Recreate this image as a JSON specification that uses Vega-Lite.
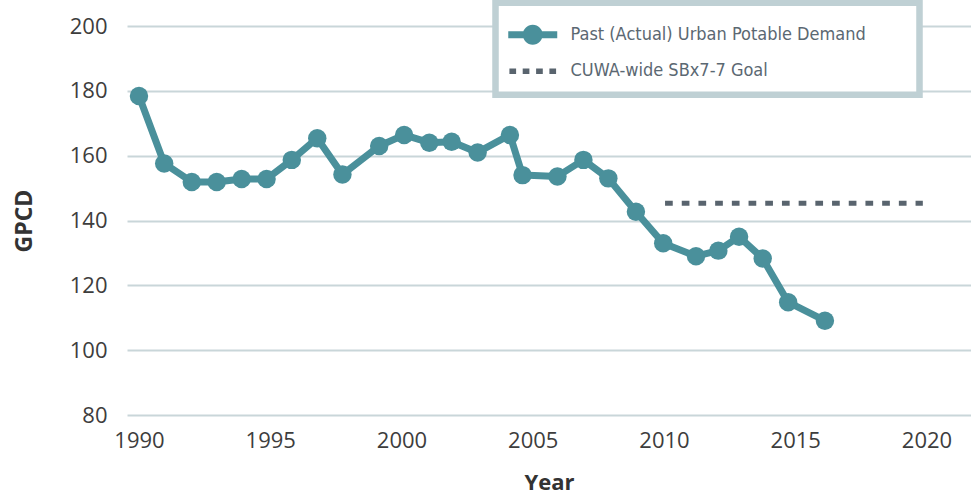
{
  "$schema": "https://vega.github.io/schema/vega-lite/v6.json",
  "width": 844,
  "height": 389,
  "autosize": {"type": "none"},
  "padding": {"left": 127, "top": 26, "right": 0, "bottom": 82},
  "background": "white",
  "config": {"view": {"stroke": null}, "font": "Open Sans"},
  "data": {
    "values": [
      {"year": 1990.0, "gpcd": 178.4, "series": "Past (Actual) Urban Potable Demand"},
      {"year": 1990.96, "gpcd": 157.6, "series": "Past (Actual) Urban Potable Demand"},
      {"year": 1992.01, "gpcd": 151.9, "series": "Past (Actual) Urban Potable Demand"},
      {"year": 1992.96, "gpcd": 151.9, "series": "Past (Actual) Urban Potable Demand"},
      {"year": 1993.91, "gpcd": 152.8, "series": "Past (Actual) Urban Potable Demand"},
      {"year": 1994.86, "gpcd": 152.8, "series": "Past (Actual) Urban Potable Demand"},
      {"year": 1995.82, "gpcd": 158.7, "series": "Past (Actual) Urban Potable Demand"},
      {"year": 1996.79, "gpcd": 165.4, "series": "Past (Actual) Urban Potable Demand"},
      {"year": 1997.75, "gpcd": 154.2, "series": "Past (Actual) Urban Potable Demand"},
      {"year": 1999.15, "gpcd": 163.0, "series": "Past (Actual) Urban Potable Demand"},
      {"year": 2000.1, "gpcd": 166.4, "series": "Past (Actual) Urban Potable Demand"},
      {"year": 2001.06, "gpcd": 164.0, "series": "Past (Actual) Urban Potable Demand"},
      {"year": 2001.91, "gpcd": 164.3, "series": "Past (Actual) Urban Potable Demand"},
      {"year": 2002.9, "gpcd": 161.0, "series": "Past (Actual) Urban Potable Demand"},
      {"year": 2004.13, "gpcd": 166.4, "series": "Past (Actual) Urban Potable Demand"},
      {"year": 2004.61, "gpcd": 154.0, "series": "Past (Actual) Urban Potable Demand"},
      {"year": 2005.94, "gpcd": 153.6, "series": "Past (Actual) Urban Potable Demand"},
      {"year": 2006.93, "gpcd": 158.7, "series": "Past (Actual) Urban Potable Demand"},
      {"year": 2007.88, "gpcd": 153.0, "series": "Past (Actual) Urban Potable Demand"},
      {"year": 2008.93, "gpcd": 142.7, "series": "Past (Actual) Urban Potable Demand"},
      {"year": 2009.97, "gpcd": 133.0, "series": "Past (Actual) Urban Potable Demand"},
      {"year": 2011.22, "gpcd": 129.0, "series": "Past (Actual) Urban Potable Demand"},
      {"year": 2012.07, "gpcd": 130.7, "series": "Past (Actual) Urban Potable Demand"},
      {"year": 2012.86, "gpcd": 135.0, "series": "Past (Actual) Urban Potable Demand"},
      {"year": 2013.76, "gpcd": 128.3, "series": "Past (Actual) Urban Potable Demand"},
      {"year": 2014.73, "gpcd": 114.8, "series": "Past (Actual) Urban Potable Demand"},
      {"year": 2016.13, "gpcd": 109.1, "series": "Past (Actual) Urban Potable Demand"},
      {"year": 2010.04, "gpcd": 145.3, "series": "CUWA-wide SBx7-7 Goal"},
      {"year": 2019.86, "gpcd": 145.3, "series": "CUWA-wide SBx7-7 Goal"}
    ]
  },
  "encoding": {
    "x": {
      "field": "year",
      "type": "quantitative",
      "scale": {"domain": [1989.543, 2021.695], "nice": false, "zero": false},
      "axis": {
        "values": [1990, 1995, 2000, 2005, 2010, 2015, 2020],
        "format": "d",
        "grid": false,
        "domain": false,
        "ticks": false,
        "labelFont": "Open Sans",
        "labelFontSize": 22,
        "labelColor": "#3d3d3d",
        "labelPadding": 15,
        "labelFlush": false,
        "title": "Year",
        "titleFont": "Open Sans",
        "titleFontSize": 22,
        "titleFontWeight": "bold",
        "titleColor": "#333333",
        "titlePadding": 21
      }
    },
    "y": {
      "field": "gpcd",
      "type": "quantitative",
      "scale": {"domain": [80, 200], "nice": false, "zero": false},
      "axis": {
        "values": [80, 100, 120, 140, 160, 180, 200],
        "grid": true,
        "gridColor": "#c9d6d9",
        "gridWidth": 2,
        "domain": false,
        "ticks": false,
        "labelFont": "Open Sans",
        "labelFontSize": 22,
        "labelColor": "#3d3d3d",
        "labelPadding": 20,
        "title": "GPCD",
        "titleFont": "Open Sans",
        "titleFontSize": 23,
        "titleFontWeight": "bold",
        "titleColor": "#333333",
        "titlePadding": 33
      }
    }
  },
  "layer": [
    {
      "transform": [{"filter": "datum.series === 'Past (Actual) Urban Potable Demand'"}],
      "mark": {"type": "line", "strokeWidth": 7, "strokeJoin": "round"},
      "encoding": {
        "color": {
          "field": "series",
          "type": "nominal",
          "scale": {
            "domain": ["Past (Actual) Urban Potable Demand", "CUWA-wide SBx7-7 Goal"],
            "range": ["#4a909b", "#59646e"]
          },
          "legend": {
            "orient": "none",
            "legendX": 368.5,
            "legendY": -23.25,
            "title": "\u00a0",
            "titleOrient": "right",
            "titleFontSize": 2,
            "titlePadding": 40,
            "padding": 14,
            "symbolSize": 1260,
            "symbolOffset": 5.25,
            "symbolStrokeWidth": 0,
            "labelOffset": 19.75,
            "rowPadding": 8.5,
            "labelFont": "DejaVu Sans Condensed, Liberation Sans Narrow, sans-serif",
            "labelFontSize": 18,
            "labelColor": "#5b6872",
            "labelLimit": 1000,
            "encode": {
              "symbols": {
                "update": {
                  "shape": {"signal": "datum.value === 'Past (Actual) Urban Potable Demand' ? 'M-1.38,-0.2L1.38,-0.2L1.38,0.2L-1.38,0.2Z M0.56,0A0.56,0.56 0 1,1 -0.56,0A0.56,0.56 0 1,1 0.56,0Z' : 'M-1.315,-0.158H-0.938V0.158H-1.315Z M-0.566,-0.158H-0.189V0.158H-0.566Z M0.189,-0.158H0.566V0.158H0.189Z M0.938,-0.158H1.315V0.158H0.938Z'"},
                  "fill": {"signal": "datum.value === 'Past (Actual) Urban Potable Demand' ? '#4a909b' : '#59646e'"},
                  "stroke": {"value": "transparent"},
                  "strokeWidth": {"value": 0},
                  "strokeDash": {"value": [1, 0]},
                  "opacity": {"value": 1},
                  "size": {"value": 1260}
                }
              },
              "legend": {
                "update": {
                  "stroke": {"value": "#bfd0d4"},
                  "strokeWidth": {"value": 6.5},
                  "fill": {"value": "#ffffff"}
                }
              }
            }
          }
        }
      }
    },
    {
      "transform": [{"filter": "datum.series === 'CUWA-wide SBx7-7 Goal'"}],
      "mark": {"type": "line", "strokeWidth": 5, "strokeDash": [7.7, 9], "strokeCap": "butt"},
      "encoding": {
        "color": {"field": "series", "type": "nominal"}
      }
    },
    {
      "transform": [{"filter": "datum.series === 'Past (Actual) Urban Potable Demand'"}],
      "mark": {"type": "point", "filled": true, "size": 340, "opacity": 1, "color": "#4a909b", "strokeWidth": 0},
      "encoding": {}
    }
  ]
}
